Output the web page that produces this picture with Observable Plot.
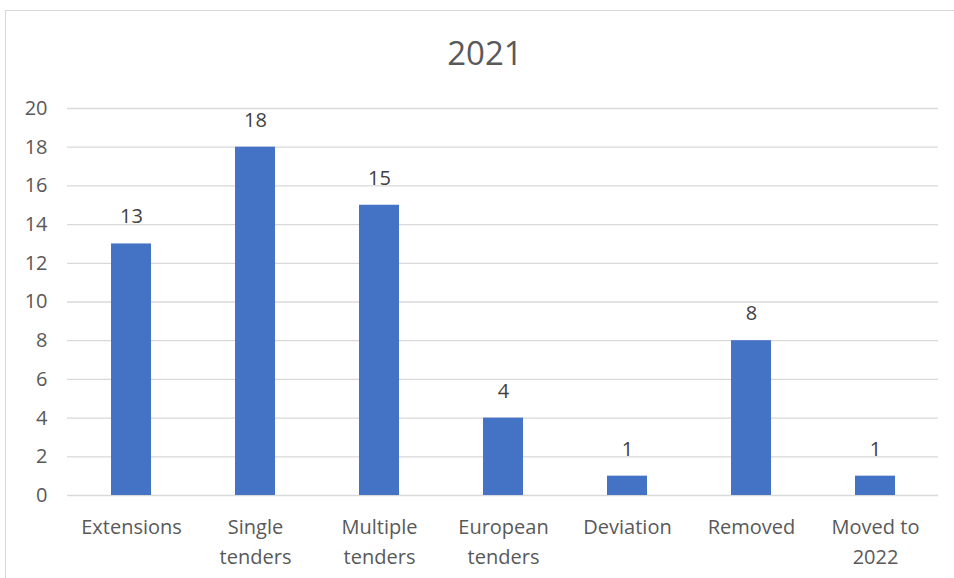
<!DOCTYPE html>
<html>
<head>
<meta charset="utf-8">
<script src="https://cdn.jsdelivr.net/npm/d3@7"></script>
<script src="https://cdn.jsdelivr.net/npm/@observablehq/plot@0.6"></script>
<style>
  html, body { margin: 0; padding: 0; background: #fff; overflow: hidden; }
  #wrap { position: relative; width: 954px; height: 578px; overflow: hidden; font-family: "Open Sans", sans-serif; }
  #border { position: absolute; left: 5px; top: 10px; width: 980px; height: 600px; border-left: 1.5px solid #d9d9d9; border-top: 1.5px solid #d9d9d9; }
  #title { position: absolute; left: 385px; width: 200px; top: 36px; text-align: center; font-size: 33px; line-height: 1; color: #595959; }
  #chart { position: absolute; left: 0; top: 80px; }
</style>
</head>
<body>
<div id="wrap">
  <div id="border"></div>
  <div id="title">2021</div>
  <div id="chart"></div>
</div>
<script>
const categories = ["Extensions", "Single\ntenders", "Multiple\ntenders", "European\ntenders", "Deviation", "Removed", "Moved to\n2022"];
const values = [13, 18, 15, 4, 1, 8, 1];
const yTicks = [0, 2, 4, 6, 8, 10, 12, 14, 16, 18, 20];

const data = categories.map((c, i) => ({category: c, value: values[i]}));

const chart = Plot.plot({
  width: 954,
  height: 498,
  marginTop: 28,
  marginBottom: 83,
  marginLeft: 67,
  marginRight: 16,
  style: {fontFamily: "'Open Sans', sans-serif", fontSize: "20px", color: "#595959", background: "transparent"},
  x: {domain: categories, paddingInner: 0.68, paddingOuter: 0.34, label: null},
  y: {domain: [0, 20], label: null},
  marks: [
    Plot.gridY(yTicks, {stroke: "#d9d9d9", strokeOpacity: 1, strokeWidth: 1.3}),
    Plot.axisY(yTicks, {tickSize: 0, tickPadding: 20, fontSize: 20, fill: "#595959", label: null}),
    Plot.axisX({tickSize: 0, tickPadding: 17, fontSize: 20, fill: "#595959", lineHeight: 1.5, label: null}),
    Plot.barY(data, {x: "category", y: "value", fill: "#4472C4"}),
    Plot.text(data, {x: "category", y: "value", text: d => String(d.value), dy: -27, fontSize: 20, fill: "#404040", lineAnchor: "middle"})
  ]
});
document.getElementById("chart").appendChild(chart);
</script>
</body>
</html>
